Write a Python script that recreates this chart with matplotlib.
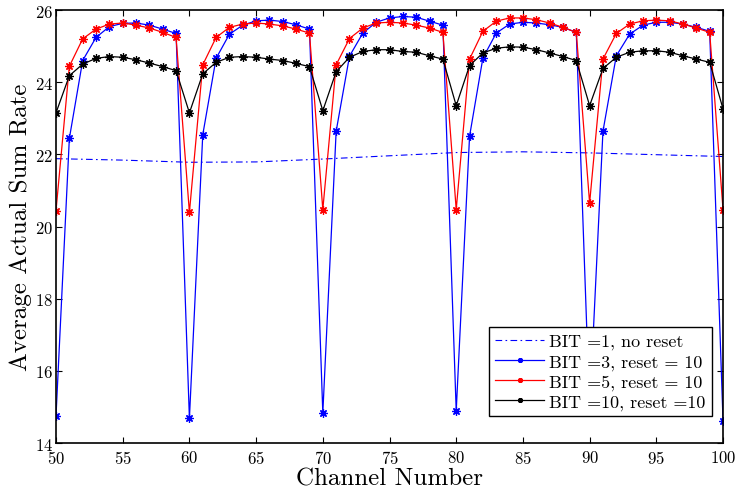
import matplotlib
matplotlib.use("Agg")
import matplotlib.pyplot as plt

# channel numbers 50..100
channels = list(range(50, 101))

# BIT = 3, reset = 10
bit3 = [14.75, 22.44, 24.60, 25.24, 25.54, 25.63, 25.64, 25.58, 25.47, 25.35,
        14.68, 22.54, 24.66, 25.33, 25.58, 25.70, 25.72, 25.68, 25.59, 25.47,
        14.83, 22.64, 24.72, 25.36, 25.66, 25.78, 25.82, 25.80, 25.69, 25.58,
        14.89, 22.50, 24.67, 25.36, 25.61, 25.66, 25.64, 25.59, 25.52, 25.38,
        14.93, 22.64, 24.73, 25.33, 25.58, 25.66, 25.66, 25.61, 25.52, 25.41,
        14.62]

# BIT = 5, reset = 10
bit5 = [20.44, 24.44, 25.20, 25.47, 25.61, 25.64, 25.58, 25.50, 25.38, 25.24,
        20.39, 24.48, 25.24, 25.52, 25.61, 25.64, 25.61, 25.56, 25.47, 25.36,
        20.47, 24.48, 25.21, 25.50, 25.64, 25.66, 25.64, 25.58, 25.50, 25.38,
        20.47, 24.64, 25.41, 25.69, 25.78, 25.78, 25.73, 25.64, 25.52, 25.38,
        20.65, 24.64, 25.35, 25.61, 25.70, 25.72, 25.70, 25.61, 25.50, 25.38,
        20.47]

# BIT = 10, reset = 10
bit10 = [23.15, 24.18, 24.50, 24.66, 24.71, 24.69, 24.62, 24.53, 24.43, 24.32,
         23.15, 24.23, 24.55, 24.69, 24.71, 24.69, 24.64, 24.60, 24.52, 24.43,
         23.21, 24.29, 24.69, 24.85, 24.90, 24.90, 24.85, 24.83, 24.73, 24.64,
         23.35, 24.46, 24.81, 24.94, 24.98, 24.97, 24.90, 24.81, 24.71, 24.60,
         23.35, 24.38, 24.69, 24.83, 24.87, 24.87, 24.83, 24.73, 24.64, 24.55,
         23.26]

# BIT = 1, no reset (smooth curve, read every 5 channels)
ch_noreset = [50, 55, 60, 65, 70, 75, 80, 85, 90, 95, 100]
bit1 = [21.88, 21.84, 21.78, 21.79, 21.87, 21.96, 22.05, 22.07, 22.04, 21.99, 21.94]

plt.rcParams['font.family'] = ['cmr10', 'DejaVu Serif']
plt.rcParams['axes.formatter.use_mathtext'] = True
plt.rcParams['mathtext.fontset'] = 'cm'

fig = plt.figure(figsize=(7.35, 4.89), dpi=100)
ax = fig.add_axes([0.0762, 0.092, 0.9075, 0.8855])

star = (8, 2, 0)
ax.plot(ch_noreset, bit1, color='#0000ff', lw=0.8, dashes=(6, 3, 1.5, 3),
        label='BIT =1, no reset')
ax.plot(channels, bit3, color='#0000ff', lw=0.9, marker=star, ms=6, mew=0.9,
        label='BIT =3, reset = 10')
ax.plot(channels, bit5, color='#ff0000', lw=0.9, marker=star, ms=6, mew=0.9,
        label='BIT =5, reset = 10')
ax.plot(channels, bit10, color='black', lw=0.9, marker=star, ms=6, mew=0.9,
        label='BIT =10, reset =10')

ax.set_xlim(50, 100)
ax.set_ylim(14, 26)
ax.set_xticks(range(50, 101, 5))
ax.set_yticks(range(14, 27, 2))
ax.tick_params(direction='in', top=True, right=True, length=4, width=0.8,
               labelsize=12)
ax.tick_params(axis='x', pad=4)
ax.tick_params(axis='y', pad=2)
for s in ax.spines.values():
    s.set_linewidth(1.2)

ax.set_xlabel('Channel Number', fontsize=18, labelpad=1)
ax.set_ylabel('Average Actual Sum Rate', fontsize=18, labelpad=2)

leg = ax.legend(loc='lower right', bbox_to_anchor=(0.9835, 0.0624), fontsize=13,
                borderaxespad=0, fancybox=False, framealpha=1, edgecolor='black',
                handlelength=2.7, handletextpad=0.3, borderpad=0.35,
                labelspacing=0.22, markerscale=0.6)
leg.get_frame().set_linewidth(1.0)

fig.savefig('out.png', dpi=100)
